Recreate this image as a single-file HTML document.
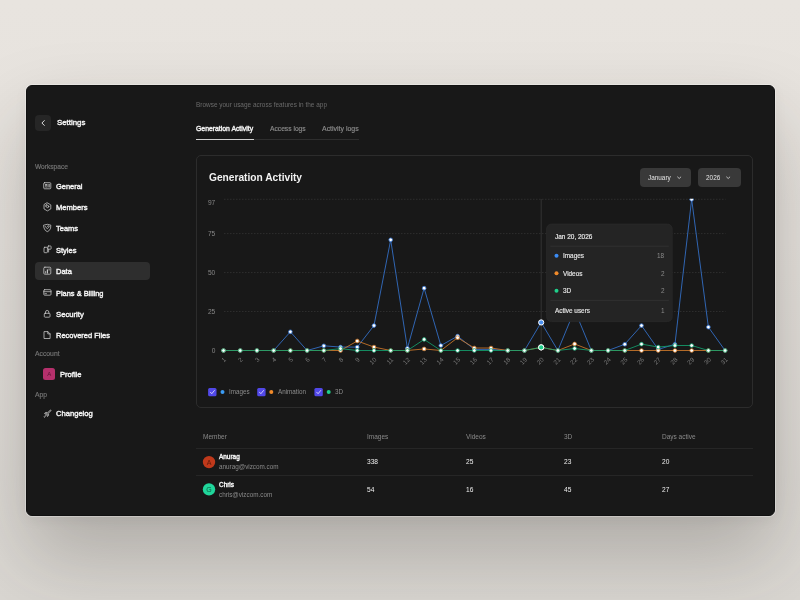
<!DOCTYPE html>
<html><head><meta charset="utf-8"><style>
html,body{margin:0;padding:0;}
body{width:800px;height:600px;position:relative;overflow:hidden;font-family:"Liberation Sans",sans-serif;
background:linear-gradient(180deg,#e8e4df 0%,#e6e2dd 40%,#dad7d2 100%);}
.card{position:absolute;left:26px;top:85px;width:749px;height:431px;border-radius:6px;background:#181818;
box-shadow:0 0 0 1px rgba(255,255,255,0.3),0 40px 80px rgba(40,35,30,0.26),0 4px 14px rgba(40,35,30,0.05);border:1px solid #111;box-sizing:border-box;}
.t{position:absolute;line-height:1;white-space:nowrap;will-change:transform;}
.box{position:absolute;}
.m{-webkit-text-stroke:0.4px currentColor;}
.g{-webkit-text-stroke:0.15px currentColor;}
svg.ov{position:absolute;left:0;top:0;will-change:transform;}
</style></head><body>
<div class="card"></div>
<div class="box" style="left:35px;top:115px;width:16px;height:16px;border-radius:4px;background:#262626"></div>
<div class="box" style="left:35px;top:262px;width:114.8px;height:17.5px;border-radius:4px;background:#2e2e2e"></div>
<div class="box" style="left:43px;top:368px;width:12.3px;height:12.3px;border-radius:2.5px;background:#b5306c"></div>
<div class="box" style="left:195.6px;top:139px;width:163.4px;height:1px;background:#2e2e2e"></div>
<div class="box" style="left:195.6px;top:138.8px;width:58px;height:1.3px;background:#d0d0d0"></div>
<div class="box" style="left:195.5px;top:155.2px;width:555.5px;height:251.2px;border:1px solid #2c2c2c;border-radius:5px"></div>
<div class="box" style="left:640px;top:168.2px;width:51.2px;height:18.5px;border-radius:4px;background:#393939"></div>
<div class="box" style="left:697.5px;top:168.2px;width:43px;height:18.5px;border-radius:4px;background:#393939"></div>
<div class="box" style="left:196px;top:448px;width:557px;height:0.8px;background:#262626"></div>
<div class="box" style="left:196px;top:475.2px;width:557px;height:0.8px;background:#262626"></div>
<svg class="ov" width="800" height="600" viewBox="0 0 800 600">
<style>.yl{font-size:6.6px;fill:#878787;font-family:"Liberation Sans",sans-serif} .xl{font-size:6.3px;fill:#7c7c7c;font-family:"Liberation Sans",sans-serif}</style>
<line x1="224" y1="199.30" x2="725.5" y2="199.30" stroke="#333" stroke-width="0.8" stroke-dasharray="1.5 1.5"/>
<text x="215.3" y="204.60" text-anchor="end" class="yl">97</text>
<line x1="224" y1="233.59" x2="725.5" y2="233.59" stroke="#333" stroke-width="0.8" stroke-dasharray="1.5 1.5"/>
<text x="215.3" y="235.69" text-anchor="end" class="yl">75</text>
<line x1="224" y1="272.56" x2="725.5" y2="272.56" stroke="#333" stroke-width="0.8" stroke-dasharray="1.5 1.5"/>
<text x="215.3" y="274.66" text-anchor="end" class="yl">50</text>
<line x1="224" y1="311.53" x2="725.5" y2="311.53" stroke="#333" stroke-width="0.8" stroke-dasharray="1.5 1.5"/>
<text x="215.3" y="313.63" text-anchor="end" class="yl">25</text>
<text x="215.3" y="352.60" text-anchor="end" class="yl">0</text>
<line x1="541.18" y1="199" x2="541.18" y2="350.5" stroke="#3a3a3a" stroke-width="0.8"/>
<clipPath id="pc"><rect x="200" y="198.8" width="540" height="160"/></clipPath><g clip-path="url(#pc)">
<polyline points="223.50,350.50 240.22,350.50 256.94,350.50 273.66,350.50 290.38,331.79 307.10,350.50 323.82,345.82 340.54,347.07 357.26,347.07 373.98,325.56 390.70,239.83 407.42,348.32 424.14,288.15 440.86,345.51 457.58,336.16 474.30,349.41 491.02,349.41 507.74,350.50 524.46,350.50 541.18,322.44 557.90,350.50 574.62,309.97 591.34,350.50 608.06,350.50 624.78,344.26 641.50,325.56 658.22,349.41 674.94,344.26 691.66,199.30 708.38,327.12 725.10,350.50" fill="none" stroke="#3574cf" stroke-width="0.85" stroke-linejoin="round"/>
<polyline points="223.50,350.50 240.22,350.50 256.94,350.50 273.66,350.50 290.38,350.50 307.10,350.50 323.82,350.50 340.54,350.50 357.26,340.99 373.98,347.07 390.70,350.50 407.42,350.50 424.14,348.94 440.86,350.50 457.58,337.72 474.30,348.01 491.02,348.01 507.74,350.50 524.46,350.50 541.18,347.38 557.90,350.50 574.62,343.95 591.34,350.50 608.06,350.50 624.78,350.50 641.50,350.50 658.22,350.50 674.94,350.50 691.66,350.50 708.38,350.50 725.10,350.50" fill="none" stroke="#d07a2a" stroke-width="0.85" stroke-linejoin="round"/>
<polyline points="223.50,350.50 240.22,350.50 256.94,350.50 273.66,350.50 290.38,350.50 307.10,350.50 323.82,350.50 340.54,348.63 357.26,350.50 373.98,350.50 390.70,350.50 407.42,350.50 424.14,339.43 440.86,350.50 457.58,350.50 474.30,350.50 491.02,350.50 507.74,350.50 524.46,350.50 541.18,347.38 557.90,350.50 574.62,348.47 591.34,350.50 608.06,350.50 624.78,350.50 641.50,344.11 658.22,347.07 674.94,345.51 691.66,345.51 708.38,350.50 725.10,350.50" fill="none" stroke="#14a06e" stroke-width="0.85" stroke-linejoin="round"/>
<circle cx="223.50" cy="350.50" r="1.85" fill="#fff" stroke="#3574cf" stroke-width="0.8"/><circle cx="240.22" cy="350.50" r="1.85" fill="#fff" stroke="#3574cf" stroke-width="0.8"/><circle cx="256.94" cy="350.50" r="1.85" fill="#fff" stroke="#3574cf" stroke-width="0.8"/><circle cx="273.66" cy="350.50" r="1.85" fill="#fff" stroke="#3574cf" stroke-width="0.8"/><circle cx="290.38" cy="331.79" r="1.85" fill="#fff" stroke="#3574cf" stroke-width="0.8"/><circle cx="307.10" cy="350.50" r="1.85" fill="#fff" stroke="#3574cf" stroke-width="0.8"/><circle cx="323.82" cy="345.82" r="1.85" fill="#fff" stroke="#3574cf" stroke-width="0.8"/><circle cx="340.54" cy="347.07" r="1.85" fill="#fff" stroke="#3574cf" stroke-width="0.8"/><circle cx="357.26" cy="347.07" r="1.85" fill="#fff" stroke="#3574cf" stroke-width="0.8"/><circle cx="373.98" cy="325.56" r="1.85" fill="#fff" stroke="#3574cf" stroke-width="0.8"/><circle cx="390.70" cy="239.83" r="1.85" fill="#fff" stroke="#3574cf" stroke-width="0.8"/><circle cx="407.42" cy="348.32" r="1.85" fill="#fff" stroke="#3574cf" stroke-width="0.8"/><circle cx="424.14" cy="288.15" r="1.85" fill="#fff" stroke="#3574cf" stroke-width="0.8"/><circle cx="440.86" cy="345.51" r="1.85" fill="#fff" stroke="#3574cf" stroke-width="0.8"/><circle cx="457.58" cy="336.16" r="1.85" fill="#fff" stroke="#3574cf" stroke-width="0.8"/><circle cx="474.30" cy="349.41" r="1.85" fill="#fff" stroke="#3574cf" stroke-width="0.8"/><circle cx="491.02" cy="349.41" r="1.85" fill="#fff" stroke="#3574cf" stroke-width="0.8"/><circle cx="507.74" cy="350.50" r="1.85" fill="#fff" stroke="#3574cf" stroke-width="0.8"/><circle cx="524.46" cy="350.50" r="1.85" fill="#fff" stroke="#3574cf" stroke-width="0.8"/><circle cx="557.90" cy="350.50" r="1.85" fill="#fff" stroke="#3574cf" stroke-width="0.8"/><circle cx="574.62" cy="309.97" r="1.85" fill="#fff" stroke="#3574cf" stroke-width="0.8"/><circle cx="591.34" cy="350.50" r="1.85" fill="#fff" stroke="#3574cf" stroke-width="0.8"/><circle cx="608.06" cy="350.50" r="1.85" fill="#fff" stroke="#3574cf" stroke-width="0.8"/><circle cx="624.78" cy="344.26" r="1.85" fill="#fff" stroke="#3574cf" stroke-width="0.8"/><circle cx="641.50" cy="325.56" r="1.85" fill="#fff" stroke="#3574cf" stroke-width="0.8"/><circle cx="658.22" cy="349.41" r="1.85" fill="#fff" stroke="#3574cf" stroke-width="0.8"/><circle cx="674.94" cy="344.26" r="1.85" fill="#fff" stroke="#3574cf" stroke-width="0.8"/><circle cx="691.66" cy="199.30" r="1.85" fill="#fff" stroke="#3574cf" stroke-width="0.8"/><circle cx="708.38" cy="327.12" r="1.85" fill="#fff" stroke="#3574cf" stroke-width="0.8"/><circle cx="725.10" cy="350.50" r="1.85" fill="#fff" stroke="#3574cf" stroke-width="0.8"/>
<circle cx="223.50" cy="350.50" r="1.85" fill="#fff" stroke="#d07a2a" stroke-width="0.8"/><circle cx="240.22" cy="350.50" r="1.85" fill="#fff" stroke="#d07a2a" stroke-width="0.8"/><circle cx="256.94" cy="350.50" r="1.85" fill="#fff" stroke="#d07a2a" stroke-width="0.8"/><circle cx="273.66" cy="350.50" r="1.85" fill="#fff" stroke="#d07a2a" stroke-width="0.8"/><circle cx="290.38" cy="350.50" r="1.85" fill="#fff" stroke="#d07a2a" stroke-width="0.8"/><circle cx="307.10" cy="350.50" r="1.85" fill="#fff" stroke="#d07a2a" stroke-width="0.8"/><circle cx="323.82" cy="350.50" r="1.85" fill="#fff" stroke="#d07a2a" stroke-width="0.8"/><circle cx="340.54" cy="350.50" r="1.85" fill="#fff" stroke="#d07a2a" stroke-width="0.8"/><circle cx="357.26" cy="340.99" r="1.85" fill="#fff" stroke="#d07a2a" stroke-width="0.8"/><circle cx="373.98" cy="347.07" r="1.85" fill="#fff" stroke="#d07a2a" stroke-width="0.8"/><circle cx="390.70" cy="350.50" r="1.85" fill="#fff" stroke="#d07a2a" stroke-width="0.8"/><circle cx="407.42" cy="350.50" r="1.85" fill="#fff" stroke="#d07a2a" stroke-width="0.8"/><circle cx="424.14" cy="348.94" r="1.85" fill="#fff" stroke="#d07a2a" stroke-width="0.8"/><circle cx="440.86" cy="350.50" r="1.85" fill="#fff" stroke="#d07a2a" stroke-width="0.8"/><circle cx="457.58" cy="337.72" r="1.85" fill="#fff" stroke="#d07a2a" stroke-width="0.8"/><circle cx="474.30" cy="348.01" r="1.85" fill="#fff" stroke="#d07a2a" stroke-width="0.8"/><circle cx="491.02" cy="348.01" r="1.85" fill="#fff" stroke="#d07a2a" stroke-width="0.8"/><circle cx="507.74" cy="350.50" r="1.85" fill="#fff" stroke="#d07a2a" stroke-width="0.8"/><circle cx="524.46" cy="350.50" r="1.85" fill="#fff" stroke="#d07a2a" stroke-width="0.8"/><circle cx="557.90" cy="350.50" r="1.85" fill="#fff" stroke="#d07a2a" stroke-width="0.8"/><circle cx="574.62" cy="343.95" r="1.85" fill="#fff" stroke="#d07a2a" stroke-width="0.8"/><circle cx="591.34" cy="350.50" r="1.85" fill="#fff" stroke="#d07a2a" stroke-width="0.8"/><circle cx="608.06" cy="350.50" r="1.85" fill="#fff" stroke="#d07a2a" stroke-width="0.8"/><circle cx="624.78" cy="350.50" r="1.85" fill="#fff" stroke="#d07a2a" stroke-width="0.8"/><circle cx="641.50" cy="350.50" r="1.85" fill="#fff" stroke="#d07a2a" stroke-width="0.8"/><circle cx="658.22" cy="350.50" r="1.85" fill="#fff" stroke="#d07a2a" stroke-width="0.8"/><circle cx="674.94" cy="350.50" r="1.85" fill="#fff" stroke="#d07a2a" stroke-width="0.8"/><circle cx="691.66" cy="350.50" r="1.85" fill="#fff" stroke="#d07a2a" stroke-width="0.8"/><circle cx="708.38" cy="350.50" r="1.85" fill="#fff" stroke="#d07a2a" stroke-width="0.8"/><circle cx="725.10" cy="350.50" r="1.85" fill="#fff" stroke="#d07a2a" stroke-width="0.8"/>
<circle cx="223.50" cy="350.50" r="1.85" fill="#fff" stroke="#14a06e" stroke-width="0.8"/><circle cx="240.22" cy="350.50" r="1.85" fill="#fff" stroke="#14a06e" stroke-width="0.8"/><circle cx="256.94" cy="350.50" r="1.85" fill="#fff" stroke="#14a06e" stroke-width="0.8"/><circle cx="273.66" cy="350.50" r="1.85" fill="#fff" stroke="#14a06e" stroke-width="0.8"/><circle cx="290.38" cy="350.50" r="1.85" fill="#fff" stroke="#14a06e" stroke-width="0.8"/><circle cx="307.10" cy="350.50" r="1.85" fill="#fff" stroke="#14a06e" stroke-width="0.8"/><circle cx="323.82" cy="350.50" r="1.85" fill="#fff" stroke="#14a06e" stroke-width="0.8"/><circle cx="340.54" cy="348.63" r="1.85" fill="#fff" stroke="#14a06e" stroke-width="0.8"/><circle cx="357.26" cy="350.50" r="1.85" fill="#fff" stroke="#14a06e" stroke-width="0.8"/><circle cx="373.98" cy="350.50" r="1.85" fill="#fff" stroke="#14a06e" stroke-width="0.8"/><circle cx="390.70" cy="350.50" r="1.85" fill="#fff" stroke="#14a06e" stroke-width="0.8"/><circle cx="407.42" cy="350.50" r="1.85" fill="#fff" stroke="#14a06e" stroke-width="0.8"/><circle cx="424.14" cy="339.43" r="1.85" fill="#fff" stroke="#14a06e" stroke-width="0.8"/><circle cx="440.86" cy="350.50" r="1.85" fill="#fff" stroke="#14a06e" stroke-width="0.8"/><circle cx="457.58" cy="350.50" r="1.85" fill="#fff" stroke="#14a06e" stroke-width="0.8"/><circle cx="474.30" cy="350.50" r="1.85" fill="#fff" stroke="#14a06e" stroke-width="0.8"/><circle cx="491.02" cy="350.50" r="1.85" fill="#fff" stroke="#14a06e" stroke-width="0.8"/><circle cx="507.74" cy="350.50" r="1.85" fill="#fff" stroke="#14a06e" stroke-width="0.8"/><circle cx="524.46" cy="350.50" r="1.85" fill="#fff" stroke="#14a06e" stroke-width="0.8"/><circle cx="557.90" cy="350.50" r="1.85" fill="#fff" stroke="#14a06e" stroke-width="0.8"/><circle cx="574.62" cy="348.47" r="1.85" fill="#fff" stroke="#14a06e" stroke-width="0.8"/><circle cx="591.34" cy="350.50" r="1.85" fill="#fff" stroke="#14a06e" stroke-width="0.8"/><circle cx="608.06" cy="350.50" r="1.85" fill="#fff" stroke="#14a06e" stroke-width="0.8"/><circle cx="624.78" cy="350.50" r="1.85" fill="#fff" stroke="#14a06e" stroke-width="0.8"/><circle cx="641.50" cy="344.11" r="1.85" fill="#fff" stroke="#14a06e" stroke-width="0.8"/><circle cx="658.22" cy="347.07" r="1.85" fill="#fff" stroke="#14a06e" stroke-width="0.8"/><circle cx="674.94" cy="345.51" r="1.85" fill="#fff" stroke="#14a06e" stroke-width="0.8"/><circle cx="691.66" cy="345.51" r="1.85" fill="#fff" stroke="#14a06e" stroke-width="0.8"/><circle cx="708.38" cy="350.50" r="1.85" fill="#fff" stroke="#14a06e" stroke-width="0.8"/><circle cx="725.10" cy="350.50" r="1.85" fill="#fff" stroke="#14a06e" stroke-width="0.8"/>
</g>
<circle cx="541.18" cy="322.44" r="2.6" fill="#4a90f0" stroke="#fff" stroke-width="1"/>
<circle cx="541.18" cy="347.38" r="2.6" fill="#f08a30" stroke="#fff" stroke-width="1"/>
<circle cx="541.18" cy="347.38" r="2.6" fill="#1fcf8a" stroke="#fff" stroke-width="1"/>
<text x="0" y="0" text-anchor="end" class="xl" transform="translate(226.60,360.1) rotate(-45)">1</text>
<text x="0" y="0" text-anchor="end" class="xl" transform="translate(243.32,360.1) rotate(-45)">2</text>
<text x="0" y="0" text-anchor="end" class="xl" transform="translate(260.04,360.1) rotate(-45)">3</text>
<text x="0" y="0" text-anchor="end" class="xl" transform="translate(276.76,360.1) rotate(-45)">4</text>
<text x="0" y="0" text-anchor="end" class="xl" transform="translate(293.48,360.1) rotate(-45)">5</text>
<text x="0" y="0" text-anchor="end" class="xl" transform="translate(310.20,360.1) rotate(-45)">6</text>
<text x="0" y="0" text-anchor="end" class="xl" transform="translate(326.92,360.1) rotate(-45)">7</text>
<text x="0" y="0" text-anchor="end" class="xl" transform="translate(343.64,360.1) rotate(-45)">8</text>
<text x="0" y="0" text-anchor="end" class="xl" transform="translate(360.36,360.1) rotate(-45)">9</text>
<text x="0" y="0" text-anchor="end" class="xl" transform="translate(377.08,360.1) rotate(-45)">10</text>
<text x="0" y="0" text-anchor="end" class="xl" transform="translate(393.80,360.1) rotate(-45)">11</text>
<text x="0" y="0" text-anchor="end" class="xl" transform="translate(410.52,360.1) rotate(-45)">12</text>
<text x="0" y="0" text-anchor="end" class="xl" transform="translate(427.24,360.1) rotate(-45)">13</text>
<text x="0" y="0" text-anchor="end" class="xl" transform="translate(443.96,360.1) rotate(-45)">14</text>
<text x="0" y="0" text-anchor="end" class="xl" transform="translate(460.68,360.1) rotate(-45)">15</text>
<text x="0" y="0" text-anchor="end" class="xl" transform="translate(477.40,360.1) rotate(-45)">16</text>
<text x="0" y="0" text-anchor="end" class="xl" transform="translate(494.12,360.1) rotate(-45)">17</text>
<text x="0" y="0" text-anchor="end" class="xl" transform="translate(510.84,360.1) rotate(-45)">18</text>
<text x="0" y="0" text-anchor="end" class="xl" transform="translate(527.56,360.1) rotate(-45)">19</text>
<text x="0" y="0" text-anchor="end" class="xl" transform="translate(544.28,360.1) rotate(-45)">20</text>
<text x="0" y="0" text-anchor="end" class="xl" transform="translate(561.00,360.1) rotate(-45)">21</text>
<text x="0" y="0" text-anchor="end" class="xl" transform="translate(577.72,360.1) rotate(-45)">22</text>
<text x="0" y="0" text-anchor="end" class="xl" transform="translate(594.44,360.1) rotate(-45)">23</text>
<text x="0" y="0" text-anchor="end" class="xl" transform="translate(611.16,360.1) rotate(-45)">24</text>
<text x="0" y="0" text-anchor="end" class="xl" transform="translate(627.88,360.1) rotate(-45)">25</text>
<text x="0" y="0" text-anchor="end" class="xl" transform="translate(644.60,360.1) rotate(-45)">26</text>
<text x="0" y="0" text-anchor="end" class="xl" transform="translate(661.32,360.1) rotate(-45)">27</text>
<text x="0" y="0" text-anchor="end" class="xl" transform="translate(678.04,360.1) rotate(-45)">28</text>
<text x="0" y="0" text-anchor="end" class="xl" transform="translate(694.76,360.1) rotate(-45)">29</text>
<text x="0" y="0" text-anchor="end" class="xl" transform="translate(711.48,360.1) rotate(-45)">30</text>
<text x="0" y="0" text-anchor="end" class="xl" transform="translate(728.20,360.1) rotate(-45)">31</text>
<!-- tooltip -->
<rect x="546.5" y="224" width="125.8" height="97.7" rx="5" fill="#242424" stroke="#2c2c2c" stroke-width="0.6"/>
<line x1="550.4" y1="246.2" x2="668.8" y2="246.2" stroke="#363636" stroke-width="0.7"/>
<line x1="550.4" y1="300.3" x2="668.8" y2="300.3" stroke="#363636" stroke-width="0.7"/>
<circle cx="556.5" cy="255.7" r="2" fill="#3b8cf5"/>
<circle cx="556.5" cy="273.3" r="2" fill="#f08a2a"/>
<circle cx="556.5" cy="290.7" r="2" fill="#1fcf8a"/>
<!-- dropdown chevrons -->
<path d="M677.6 177 L679.2 178.5 L680.8 177" fill="none" stroke="#d4d4d4" stroke-width="0.85" stroke-linecap="round" stroke-linejoin="round"/>
<path d="M726.6 177 L728.2 178.5 L729.8 177" fill="none" stroke="#d4d4d4" stroke-width="0.85" stroke-linecap="round" stroke-linejoin="round"/>
<!-- legend -->
<g>
<rect x="208.1" y="388" width="8.4" height="8.2" rx="1.5" fill="#5148e8"/>
<rect x="257.2" y="388" width="8.4" height="8.2" rx="1.5" fill="#5148e8"/>
<rect x="314.4" y="388" width="8.4" height="8.2" rx="1.5" fill="#5148e8"/>
<path d="M210.4 392.2 l1.4 1.5 l2.6 -3.2 M259.5 392.2 l1.4 1.5 l2.6 -3.2 M316.7 392.2 l1.4 1.5 l2.6 -3.2" fill="none" stroke="#fff" stroke-width="0.7" stroke-linecap="round" stroke-linejoin="round"/>
<circle cx="222.5" cy="392" r="2" fill="#3b9cf5"/>
<circle cx="271.3" cy="392" r="2" fill="#f08a2a"/>
<circle cx="328.7" cy="392" r="2" fill="#1fcf8a"/>
</g>
<!-- avatars -->
<circle cx="209" cy="462.1" r="6.2" fill="#c0391b"/>
<circle cx="209" cy="489.4" r="6.2" fill="#20d69b"/>
<text x="209" y="464.6" text-anchor="middle" font-size="7" fill="#5a180a" font-family="Liberation Sans">A</text>
<text x="209" y="491.9" text-anchor="middle" font-size="7" fill="#0b5a3e" font-family="Liberation Sans">G</text>
<text x="49.15" y="376.4" text-anchor="middle" font-size="6" fill="#5a1232" font-family="Liberation Sans">A</text>

<!-- back chevron -->
<path d="M44.3 120.6 L41.9 123 L44.3 125.4" fill="none" stroke="#e8e8e8" stroke-width="0.95" stroke-linecap="round" stroke-linejoin="round"/>
<g fill="none" stroke="#cfcfcf" stroke-width="0.75" stroke-linejoin="round" stroke-linecap="round">
<!-- general: id card -->
<rect x="43.7" y="182.7" width="7.1" height="6.1" rx="0.9"/>
<circle cx="45.9" cy="184.9" r="0.55" fill="#cfcfcf"/>
<path d="M45 187 q0.9 -0.9 1.8 0 M48 184.3 v2.8 M49.3 184.3 v2.8"/>
<!-- members: hexagon badge -->
<path d="M47.4 202.9 L50.8 204.9 L50.8 208.9 L47.4 210.9 L44 208.9 L44 204.9 Z"/>
<circle cx="47.6" cy="206.5" r="1.2"/>
<path d="M45.5 206.2 q0.1 -1.6 1.4 -2"/>
<!-- teams: shield -->
<path d="M43.9 225.1 L47.3 224.3 L50.8 225.1 L50.6 228.3 Q49.6 230.9 47.3 231.7 Q45 230.9 44.1 228.3 Z"/>
<path d="M45.3 226.5 q0.8 1.5 2 2.2 q1.6 -1 2 -2.5 q-0.8 -0.9 -2 0.1"/>
<!-- styles -->
<rect x="44" y="247.3" width="3.4" height="5.4" rx="0.7"/>
<rect x="47.9" y="246" width="3.2" height="3.2" rx="0.6"/>
<path d="M48.6 249.4 v2.6"/>
<!-- data -->
<rect x="43.8" y="267.2" width="7" height="7" rx="1.1"/>
<path d="M45.6 271.5 v1.5 M49.1 268.9 v1.2"/>
<path d="M47.4 269.8 v3.2" stroke-width="1.1"/>
<!-- plans: card -->
<rect x="43.8" y="289.7" width="7.2" height="5.5" rx="0.9"/>
<path d="M43.8 291.7 h7.2 M44.9 293.7 h1.6"/>
<!-- security: lock -->
<rect x="44.3" y="313.3" width="5.7" height="3.9" rx="0.8"/>
<path d="M45.5 313.3 v-1.2 a1.65 1.65 0 0 1 3.3 0 v1.2"/>
<!-- file -->
<path d="M44.4 331.6 h3.4 l2.3 2.3 v4.6 h-5.7 z M47.8 331.6 v2.3 h2.3"/>
<!-- changelog: rocket -->
<path d="M46.2 415.4 L50.6 411 Q51.2 410.3 50.9 410.1 Q50.6 409.9 49.9 410.5 L45.6 414.7"/>
<path d="M46.8 412.4 L45.3 412.6 L44.5 413.6 L46 413.8"/>
<path d="M48.6 414.2 L48.4 415.7 L47.4 416.5 L47.2 415"/>
<path d="M44.1 416.6 L45 415.7 M44.6 417.4 L45.3 416.7"/>
</g>

</svg>
<div class="t m" style="top:119.35px;font-size:7.85px;color:#f4f4f4;left:56.50px;">Settings</div>
<div class="t g" style="top:164.41px;font-size:6.6px;color:#767676;left:35.00px;">Workspace</div>
<div class="t m" style="top:183.19px;font-size:7.45px;color:#f4f4f4;left:55.60px;">General</div>
<div class="t m" style="top:204.17px;font-size:7.6px;color:#f4f4f4;left:55.60px;">Members</div>
<div class="t m" style="top:225.40px;font-size:7.5px;color:#f4f4f4;left:55.60px;">Teams</div>
<div class="t m" style="top:246.75px;font-size:7.5px;color:#f4f4f4;left:55.60px;">Styles</div>
<div class="t m" style="top:268.05px;font-size:7.5px;color:#f4f4f4;left:55.60px;">Data</div>
<div class="t m" style="top:289.61px;font-size:7.43px;color:#f4f4f4;left:55.60px;">Plans &amp; Billing</div>
<div class="t m" style="top:310.68px;font-size:7.7px;color:#f4f4f4;left:55.60px;">Security</div>
<div class="t m" style="top:332.18px;font-size:7.47px;color:#f4f4f4;left:55.60px;">Recovered Files</div>
<div class="t g" style="top:351.14px;font-size:6.8px;color:#767676;left:35.30px;">Account</div>
<div class="t m" style="top:370.57px;font-size:7.6px;color:#f4f4f4;left:59.60px;">Profile</div>
<div class="t g" style="top:391.94px;font-size:6.8px;color:#767676;left:35.30px;">App</div>
<div class="t m" style="top:410.27px;font-size:7.6px;color:#f4f4f4;left:55.60px;">Changelog</div>
<div class="t" style="top:102.25px;font-size:6.44px;color:#6a6a6a;left:195.60px;">Browse your usage across features in the app</div>
<div class="t m" style="top:125.80px;font-size:6.85px;color:#f2f2f2;left:195.60px;">Generation Activity</div>
<div class="t g" style="top:126.33px;font-size:6.7px;color:#8e8e8e;left:269.50px;">Access logs</div>
<div class="t g" style="top:126.12px;font-size:6.95px;color:#8e8e8e;left:322.20px;">Activity logs</div>
<div class="t" style="top:173.17px;font-size:10.2px;color:#f2f2f2;font-weight:700;left:208.70px;">Generation Activity</div>
<div class="t" style="top:174.78px;font-size:6.4px;color:#e4e4e4;left:648.00px;">January</div>
<div class="t" style="top:174.76px;font-size:6.43px;color:#e4e4e4;left:705.70px;">2026</div>
<div class="t" style="top:389.07px;font-size:6.3px;color:#8c8c8c;left:228.70px;">Images</div>
<div class="t" style="top:389.07px;font-size:6.3px;color:#8c8c8c;left:277.90px;">Animation</div>
<div class="t" style="top:389.07px;font-size:6.3px;color:#8c8c8c;left:334.70px;">3D</div>
<div class="t g" style="top:234.42px;font-size:6.47px;color:#ececec;left:554.70px;">Jan 20, 2026</div>
<div class="t g" style="top:253.28px;font-size:6.4px;color:#e6e6e6;left:562.50px;">Images</div>
<div class="t" style="top:253.28px;font-size:6.4px;color:#8a8a8a;right:135.60px;">18</div>
<div class="t g" style="top:270.88px;font-size:6.4px;color:#e6e6e6;left:562.50px;">Videos</div>
<div class="t" style="top:270.88px;font-size:6.4px;color:#8a8a8a;right:135.60px;">2</div>
<div class="t g" style="top:288.28px;font-size:6.4px;color:#e6e6e6;left:562.50px;">3D</div>
<div class="t" style="top:288.28px;font-size:6.4px;color:#8a8a8a;right:135.60px;">2</div>
<div class="t g" style="top:307.74px;font-size:6.45px;color:#e6e6e6;left:554.70px;">Active users</div>
<div class="t" style="top:307.74px;font-size:6.45px;color:#8a8a8a;right:135.60px;">1</div>
<div class="t" style="top:434.10px;font-size:6.5px;color:#8a8a8a;left:203.20px;">Member</div>
<div class="t" style="top:434.10px;font-size:6.5px;color:#8a8a8a;left:367.00px;">Images</div>
<div class="t" style="top:434.10px;font-size:6.5px;color:#8a8a8a;left:465.70px;">Videos</div>
<div class="t" style="top:434.10px;font-size:6.5px;color:#8a8a8a;left:564.00px;">3D</div>
<div class="t" style="top:434.10px;font-size:6.5px;color:#8a8a8a;left:662.40px;">Days active</div>
<div class="t m" style="top:454.44px;font-size:6.45px;color:#f2f2f2;left:219.40px;">Anurag</div>
<div class="t" style="top:464.38px;font-size:6.34px;color:#8a8a8a;left:219.40px;">anurag@vizcom.com</div>
<div class="t m" style="top:482.24px;font-size:6.45px;color:#f2f2f2;left:219.40px;">Chris</div>
<div class="t" style="top:492.13px;font-size:6.34px;color:#8a8a8a;left:219.40px;">chris@vizcom.com</div>
<div class="t" style="top:459.21px;font-size:6.6px;color:#eeeeee;left:367.00px;">338</div>
<div class="t" style="top:487.41px;font-size:6.6px;color:#eeeeee;left:367.00px;">54</div>
<div class="t" style="top:459.21px;font-size:6.6px;color:#eeeeee;left:465.70px;">25</div>
<div class="t" style="top:487.41px;font-size:6.6px;color:#eeeeee;left:465.70px;">16</div>
<div class="t" style="top:459.21px;font-size:6.6px;color:#eeeeee;left:564.00px;">23</div>
<div class="t" style="top:487.41px;font-size:6.6px;color:#eeeeee;left:564.00px;">45</div>
<div class="t" style="top:459.21px;font-size:6.6px;color:#eeeeee;left:662.40px;">20</div>
<div class="t" style="top:487.41px;font-size:6.6px;color:#eeeeee;left:662.40px;">27</div>
</body></html>
